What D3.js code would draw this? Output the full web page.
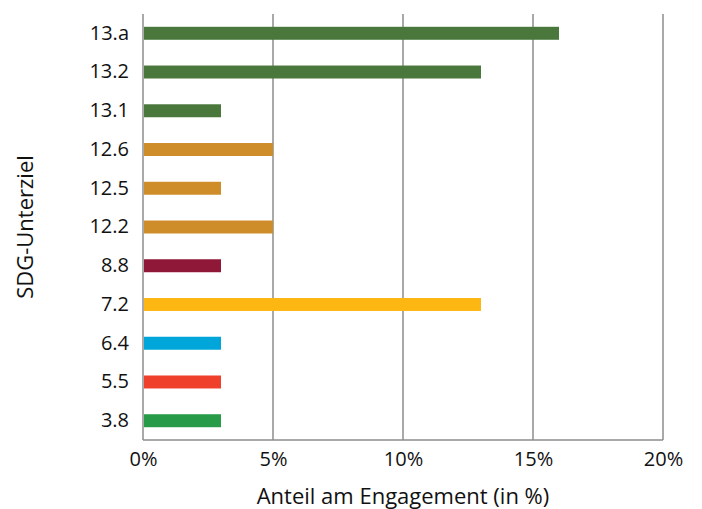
<!DOCTYPE html>
<html lang="de">
<head>
<meta charset="utf-8">
<title>SDG-Unterziel</title>
<script src="https://d3js.org/d3.v7.min.js"></script>
<style>
  body { margin: 0; background: #fff; }
  text { font-family: "Open Sans", sans-serif; fill: #111; }
</style>
</head>
<body>
<div id="chart"></div>
<script>
// data, top to bottom
var targets = ["13.a", "13.2", "13.1", "12.6", "12.5", "12.2", "8.8", "7.2", "6.4", "5.5", "3.8"];
var shares  = [16, 13, 3, 5, 3, 5, 3, 13, 3, 3, 3];
var colors  = ["#4a773c", "#4a773c", "#4a773c", "#cf8d2a", "#cf8d2a", "#cf8d2a",
               "#8f1838", "#fdb713", "#00a6d9", "#ef402b", "#279b48"];
var xTicks  = [0, 5, 10, 15, 20];

var W = 702, H = 509;
var margin = {top: 14, right: 39, bottom: 69, left: 143};
var width = W - margin.left - margin.right,
    height = H - margin.top - margin.bottom;

var svg = d3.select("#chart").append("svg")
    .attr("width", W)
    .attr("height", H);

var g = svg.append("g")
    .attr("transform", "translate(" + margin.left + "," + margin.top + ")");

var x = d3.scaleLinear().domain([0, 20]).range([0, width]);
var y = d3.scaleBand().domain(targets).range([0, height]).paddingInner(0.665).paddingOuter(0.33);

// vertical grid lines
g.selectAll(".grid")
  .data(xTicks)
  .enter().append("line")
    .attr("x1", function(d) { return x(d); })
    .attr("x2", function(d) { return x(d); })
    .attr("y1", 0)
    .attr("y2", height)
    .attr("stroke", "#8c8c8c")
    .attr("stroke-width", 1.5);

// bottom axis line
g.append("line")
  .attr("x1", 0).attr("x2", width)
  .attr("y1", height).attr("y2", height)
  .attr("stroke", "#8c8c8c")
  .attr("stroke-width", 1.5);

// bars
g.selectAll(".bar")
  .data(targets)
  .enter().append("rect")
    .attr("x", x(0) + 1)
    .attr("y", function(d) { return y(d); })
    .attr("width", function(d, i) { return x(shares[i]) - x(0) - 1; })
    .attr("height", y.bandwidth())
    .attr("fill", function(d, i) { return colors[i]; });

// y labels
var yAxis = g.append("g")
  .call(d3.axisLeft(y).tickSize(0).tickPadding(14));
yAxis.select(".domain").remove();
yAxis.selectAll("text")
  .style("font-size", "20px")
  .style("font-family", "'Open Sans', sans-serif")
  .attr("fill", "#111");

// x labels
var xAxis = g.append("g")
  .attr("transform", "translate(0," + height + ")")
  .call(d3.axisBottom(x).tickValues(xTicks).tickSize(0).tickPadding(12)
        .tickFormat(function(d) { return d + "%"; }));
xAxis.select(".domain").remove();
xAxis.selectAll("text")
  .style("font-size", "20px")
  .style("font-family", "'Open Sans', sans-serif")
  .attr("fill", "#111");

// axis titles
svg.append("text")
  .attr("x", margin.left + width / 2)
  .attr("y", 504)
  .attr("text-anchor", "middle")
  .style("font-size", "22px")
  .text("Anteil am Engagement (in %)");

svg.append("text")
  .attr("transform", "translate(33," + (margin.top + height / 2) + ") rotate(-90)")
  .attr("text-anchor", "middle")
  .style("font-size", "22px")
  .text("SDG-Unterziel");
</script>
</body>
</html>
